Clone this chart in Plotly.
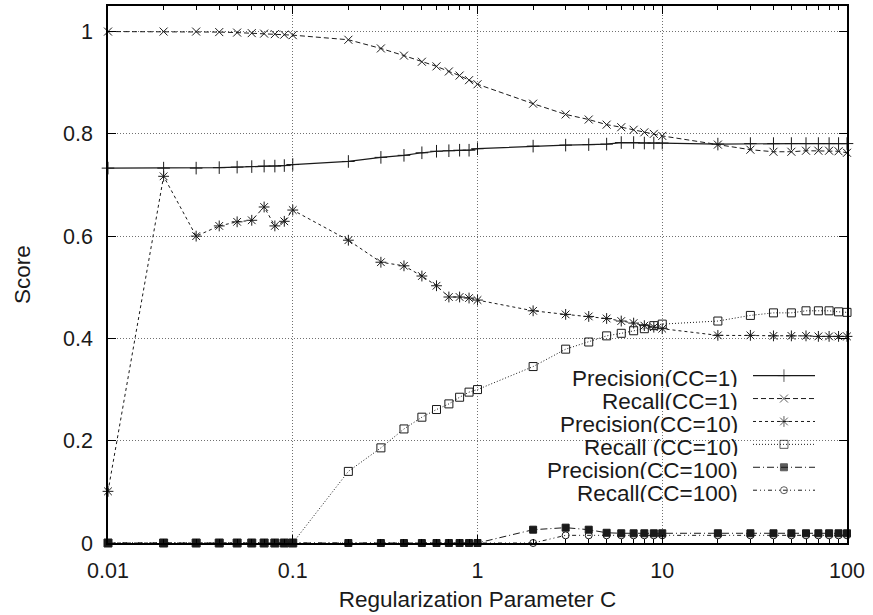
import plotly.graph_objects as go

# ---- data ----
C_values = [0.01, 0.02, 0.03, 0.04, 0.05, 0.06, 0.07, 0.08, 0.09, 0.1,
            0.2, 0.3, 0.4, 0.5, 0.6, 0.7, 0.8, 0.9, 1,
            2, 3, 4, 5, 6, 7, 8, 9, 10,
            20, 30, 40, 50, 60, 70, 80, 90, 100]

precision_cc1 = [0.733, 0.733, 0.733, 0.734, 0.735, 0.736, 0.737, 0.737, 0.738, 0.740,
                 0.746, 0.754, 0.758, 0.763, 0.766, 0.767, 0.768, 0.768, 0.771,
                 0.776, 0.778, 0.779, 0.780, 0.783, 0.783, 0.782, 0.782, 0.782,
                 0.780, 0.781, 0.781, 0.781, 0.781, 0.781, 0.781, 0.781, 0.781]

recall_cc1 = [1.000, 1.000, 1.000, 0.999, 0.998, 0.997, 0.996, 0.995, 0.994, 0.993,
              0.984, 0.967, 0.953, 0.941, 0.932, 0.922, 0.914, 0.905, 0.897,
              0.859, 0.838, 0.828, 0.818, 0.813, 0.808, 0.803, 0.800, 0.796,
              0.779, 0.769, 0.765, 0.765, 0.767, 0.767, 0.767, 0.766, 0.763]

precision_cc10 = [0.101, 0.717, 0.600, 0.620, 0.628, 0.631, 0.657, 0.620, 0.629, 0.651,
                  0.592, 0.549, 0.542, 0.522, 0.503, 0.481, 0.481, 0.479, 0.475,
                  0.454, 0.447, 0.443, 0.439, 0.434, 0.430, 0.425, 0.422, 0.419,
                  0.406, 0.406, 0.405, 0.405, 0.405, 0.404, 0.404, 0.404, 0.404]

recall_cc10 = [0, 0, 0, 0, 0, 0, 0, 0, 0, 0,
               0.140, 0.186, 0.223, 0.246, 0.261, 0.272, 0.285, 0.295, 0.300,
               0.345, 0.379, 0.393, 0.405, 0.410, 0.415, 0.419, 0.425, 0.428,
               0.434, 0.445, 0.450, 0.450, 0.454, 0.454, 0.454, 0.452, 0.451]

precision_cc100 = [0, 0, 0, 0, 0, 0, 0, 0, 0, 0,
                   0, 0, 0, 0, 0, 0, 0, 0, 0,
                   0.026, 0.030, 0.026, 0.020, 0.019, 0.019, 0.019, 0.019, 0.019,
                   0.019, 0.019, 0.019, 0.019, 0.019, 0.019, 0.019, 0.019, 0.019]

recall_cc100 = [0, 0, 0, 0, 0, 0, 0, 0, 0, 0,
                0, 0, 0, 0, 0, 0, 0, 0, 0,
                0, 0.015, 0.015, 0.015, 0.015, 0.015, 0.015, 0.015, 0.015,
                0.015, 0.015, 0.015, 0.015, 0.015, 0.015, 0.015, 0.015, 0.015]

series_names = ["Precision(CC=1)", "Recall(CC=1)", "Precision(CC=10)",
                "Recall (CC=10)", "Precision(CC=100)", "Recall(CC=100)"]
x_tick_vals = [0.01, 0.1, 1, 10, 100]
x_tick_text = ["0.01", "0.1", "1", "10", "100"]
x_minor_vals = [0.02, 0.03, 0.04, 0.05, 0.06, 0.07, 0.08, 0.09,
                0.2, 0.3, 0.4, 0.5, 0.6, 0.7, 0.8, 0.9,
                2, 3, 4, 5, 6, 7, 8, 9,
                20, 30, 40, 50, 60, 70, 80, 90]
y_tick_vals = [0, 0.2, 0.4, 0.6, 0.8, 1]
y_tick_text = ["0", "0.2", "0.4", "0.6", "0.8", "1"]

# ---- styles ----
FONT = "Liberation Sans, Arial, Helvetica, sans-serif"
INK = "#1a1a1a"
styles = [
    dict(dash="solid", symbol="cross-thin-open", size=9, lw=1.2),
    dict(dash="5px,3px", symbol="x-thin-open", size=8, lw=1.0),
    dict(dash="3px,3px", symbol="asterisk-open", size=9, lw=1.0),
    dict(dash="1px,2px", symbol="square-open", size=8, lw=1.0),
    dict(dash="7px,3px,1px,3px", symbol="square", size=7, lw=1.0),
    dict(dash="4px,3px,1px,3px,1px,3px", symbol="circle-open", size=7, lw=1.0),
]
series = [precision_cc1, recall_cc1, precision_cc10, recall_cc10, precision_cc100, recall_cc100]

fig = go.Figure()

order = [5, 3, 4, 2, 1, 0]
for i in order:
    st = styles[i]
    fig.add_trace(go.Scatter(
        x=C_values, y=series[i], name=series_names[i], mode="lines+markers",
        line=dict(color=INK, width=st["lw"], dash=st["dash"]),
        marker=dict(symbol=st["symbol"], size=st["size"], color=INK,
                    line=dict(color=INK, width=1)),
        cliponaxis=False, showlegend=False,
    ))

# ---- gnuplot-style key (text right-aligned, sample on the right) ----
key_text_x = 0.8553
key_line_x = [0.8728, 0.9147, 0.9567]
key_rows_y = [0.3117, 0.2690, 0.2263, 0.1837, 0.1410, 0.0983]
for i in range(6):
    st = styles[i]
    fig.add_trace(go.Scatter(
        x=key_line_x, y=[key_rows_y[i]] * 3, xaxis="x2", yaxis="y2",
        mode="lines+markers",
        line=dict(color=INK, width=st["lw"], dash=st["dash"]),
        marker=dict(symbol=st["symbol"], size=[0, st["size"], 0], color=INK,
                    line=dict(color=INK, width=1)),
        showlegend=False, hoverinfo="skip",
    ))
    fig.add_annotation(
        text=series_names[i], xref="paper", yref="paper",
        x=key_text_x, y=key_rows_y[i] - 0.005, xanchor="right", yanchor="middle",
        height=18, valign="middle",
        showarrow=False, font=dict(family=FONT, size=22.5, color=INK),
    )

# white key background erasing the grid
fig.add_shape(type="rect", xref="paper", yref="paper",
              x0=0.537, x1=0.9756, y0=0.0798, y1=0.334,
              fillcolor="white", line=dict(width=0), layer="between")

# invisible helper trace so the minor-tick axis is drawn
fig.add_trace(go.Scatter(x=[0.01, 100], y=[0, 0], xaxis="x3", yaxis="y",
                         mode="markers", marker=dict(size=0, opacity=0),
                         showlegend=False, hoverinfo="skip"))

axis_common = dict(
    showline=True, linecolor="black", linewidth=1.5, mirror="ticks",
    ticks="inside", tickcolor="black", tickwidth=1, ticklen=8,
    showgrid=True, gridcolor="#707070", gridwidth=1, griddash="1px,2px",
    zeroline=False, tickfont=dict(family=FONT, size=21.5, color=INK),
)

fig.update_layout(
    width=873, height=615,
    margin=dict(l=108, r=26, t=4, b=72),
    paper_bgcolor="white", plot_bgcolor="white",
    font=dict(family=FONT, color=INK),
    xaxis=dict(type="log", range=[-2, 2], tickvals=x_tick_vals, ticktext=x_tick_text,
               ticklabelstandoff=7,
               title=dict(text="Regularization Parameter C",
                          font=dict(family=FONT, size=22.5, color=INK), standoff=10),
               **axis_common),
    yaxis=dict(range=[0, 1.05], tickvals=y_tick_vals, ticktext=y_tick_text,
               ticklabelstandoff=9,
               title=dict(text="Score", font=dict(family=FONT, size=22.5, color=INK), standoff=26),
               **axis_common),
    xaxis2=dict(overlaying="x", range=[0, 1], visible=False, fixedrange=True),
    yaxis2=dict(overlaying="y", range=[0, 1], visible=False, fixedrange=True),
    xaxis3=dict(overlaying="x", anchor="y", type="log", range=[-2, 2],
                tickvals=x_minor_vals, ticks="inside", ticklen=4, tickwidth=1,
                tickcolor="black", mirror="ticks", showline=False,
                showticklabels=False, showgrid=False, zeroline=False),
)

fig.write_html("out.html", config={"displayModeBar": False},
               post_script="document.body.style.margin='0';")
